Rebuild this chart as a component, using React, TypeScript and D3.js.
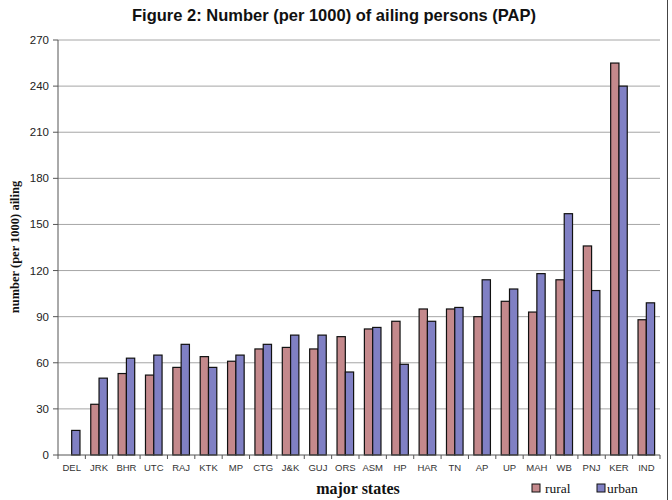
import React from 'react';
import * as d3 from 'd3';

const states = ['DEL', 'JRK', 'BHR', 'UTC', 'RAJ', 'KTK', 'MP', 'CTG', 'J&K', 'GUJ', 'ORS',
  'ASM', 'HP', 'HAR', 'TN', 'AP', 'UP', 'MAH', 'WB', 'PNJ', 'KER', 'IND'];
const rural = [0, 33, 53, 52, 57, 64, 61, 69, 70, 69, 77, 82, 87, 95, 95, 90, 100, 93, 114, 136, 255, 88];
const urban = [16, 50, 63, 65, 72, 57, 65, 72, 78, 78, 54, 83, 59, 87, 96, 114, 108, 118, 157, 107, 240, 99];
const yTicks = [0, 30, 60, 90, 120, 150, 180, 210, 240, 270];
const seriesNames = ['rural', 'urban'];

const W = 672;
const H = 500;
const margin = { top: 40, right: 12, bottom: 45, left: 58 };
const colors: Record<string, string> = { rural: '#c4898c', urban: '#8080c4' };

const App: React.FC = () => {
  const x = d3.scaleBand<string>()
    .domain(states)
    .range([margin.left, W - margin.right]);
  const y = d3.scaleLinear().domain([0, 270]).range([H - margin.bottom, margin.top]);

  // gap width 130% -> each bar is 1 / 3.3 of the band
  const barW = x.bandwidth() / 3.3;
  const rows = states.map((s, i) => ({ s, rural: rural[i], urban: urban[i] }));

  return (
    <svg width={W} height={H} style={{ position: 'absolute', left: 0, top: 0, background: '#fff' }}>
      <text x={334} y={21} textAnchor="middle" fontFamily="Liberation Sans, Arial, sans-serif"
        fontWeight="bold" fontSize={16.5} fill="#111">
        Figure 2: Number (per 1000) of ailing persons (PAP)
      </text>

      {/* grid */}
      {yTicks.filter(t => t > 0).map(t => (
        <line key={t} x1={margin.left} x2={W - margin.right} y1={y(t)} y2={y(t)} stroke="#a6a6a6" strokeWidth={1} />
      ))}

      {/* bars */}
      {rows.map(r => {
        const cx = x(r.s)! + x.bandwidth() / 2;
        return (
          <g key={r.s}>
            {r.rural > 0 && (
              <rect x={cx - barW} y={y(r.rural)} width={barW} height={y(0) - y(r.rural)}
                fill={colors.rural} stroke="#111" strokeWidth={1.2} />
            )}
            <rect x={cx} y={y(r.urban)} width={barW} height={y(0) - y(r.urban)}
              fill={colors.urban} stroke="#111" strokeWidth={1.2} />
          </g>
        );
      })}

      {/* y axis */}
      <line x1={margin.left} x2={margin.left} y1={margin.top} y2={y(0)} stroke="#555" />
      {yTicks.map(t => (
        <g key={t}>
          <line x1={margin.left - 5} x2={margin.left} y1={y(t)} y2={y(t)} stroke="#555" />
          <text x={margin.left - 9} y={y(t) + 4} textAnchor="end" fontFamily="Liberation Sans, Arial, sans-serif"
            fontSize={11.5} fill="#222">{t}</text>
        </g>
      ))}

      {/* x axis */}
      <line x1={margin.left} x2={W - margin.right} y1={y(0)} y2={y(0)} stroke="#555" />
      {states.map(s => (
        <line key={'t' + s} x1={x(s)!} x2={x(s)!} y1={y(0)} y2={y(0) + 4} stroke="#555" />
      ))}
      <line x1={W - margin.right} x2={W - margin.right} y1={y(0)} y2={y(0) + 4} stroke="#555" />
      {states.map(s => (
        <text key={'l' + s} x={x(s)! + x.bandwidth() / 2} y={471} textAnchor="middle"
          fontFamily="Liberation Sans, Arial, sans-serif" fontSize={9.5} fill="#333">{s}</text>
      ))}

      {/* axis titles */}
      <text transform="translate(19,247) rotate(-90)" textAnchor="middle"
        fontFamily="Liberation Serif, Times New Roman, serif" fontWeight="bold" fontSize={12.5} fill="#111">
        number (per 1000) ailing
      </text>
      <text x={358} y={494} textAnchor="middle" fontFamily="Liberation Serif, Times New Roman, serif"
        fontWeight="bold" fontSize={16} fill="#111">major states</text>

      {/* legend */}
      {seriesNames.map((n, i) => {
        const lx = [532, 597][i];
        return (
          <g key={n}>
            <rect x={lx} y={484} width={8} height={8} fill={colors[n]} stroke="#111" strokeWidth={1} />
            <text x={lx + (i === 0 ? 13 : 10)} y={493} fontFamily="Liberation Serif, Times New Roman, serif"
              fontSize={13.5} fill="#111">{n}</text>
          </g>
        );
      })}

      {/* chart frame edge */}
      <line x1={667.5} x2={667.5} y1={0} y2={H} stroke="#444" strokeWidth={1} />
    </svg>
  );
};

export default App;
